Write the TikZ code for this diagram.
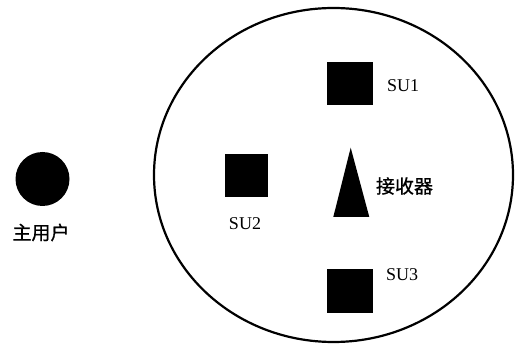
\documentclass[tikz,border=0pt]{standalone}
\usepackage{fontspec}
\setmainfont{Liberation Serif}
\newfontfamily\cjk{Noto Sans CJK SC}[FakeBold=0.8]
\begin{document}
\begin{tikzpicture}[x=1pt,y=-1pt,
  su/.style={fill=black,draw=black,minimum width=45pt,minimum height=42pt,inner sep=0pt},
  sulabel/.style={font=\fontsize{18}{18}\selectfont,inner sep=0pt},
  cjklabel/.style={font=\cjk\fontsize{19}{19}\selectfont,inner sep=0pt}]
\useasboundingbox (0,0) rectangle (527,347);
% coverage area
\draw[line width=2.2pt] (333.5,175) ellipse [x radius=179.5pt, y radius=167pt];
% primary user
\node[circle,fill=black,minimum size=54pt,inner sep=0pt] (pu) at (42.5,179) {};
\node[cjklabel] (pulabel) at (41,232.5) {主用户};
% secondary users
\node[su] (su1) at (349.5,83.5) {};
\node[sulabel] (su1label) at (403,86) {SU1};
\node[su,minimum width=42pt] (su2) at (246,175) {};
\node[sulabel] (su2label) at (245,224) {SU2};
\node[su,minimum height=43pt] (su3) at (349.5,290.5) {};
\node[sulabel] (su3label) at (402,275) {SU3};
% receiver
\fill[black] (350.7,147.7) -- (369.3,217) -- (333.3,217) -- cycle;
\node[cjklabel] (rxlabel) at (404.5,186) {接收器};
\end{tikzpicture}
\end{document}
